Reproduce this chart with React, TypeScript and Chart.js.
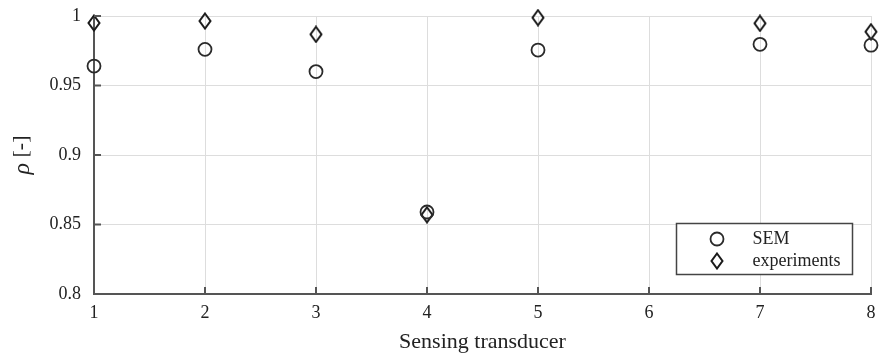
import React, { useEffect, useRef } from "react";
import { Chart, registerables } from "chart.js";

Chart.register(...registerables);

const transducers = [1, 2, 3, 4, 5, 7, 8];
const semValues = [0.964, 0.976, 0.96, 0.859, 0.9755, 0.9796, 0.979];
const experimentValues = [0.995, 0.9964, 0.9868, 0.857, 0.9988, 0.9947, 0.9887];
const seriesNames = ["SEM", "experiments"];
const xTitle = "Sensing transducer";
const yTitleSymbol = "ρ";
const yTitleUnit = " [-]";

const FONT = "'Liberation Serif', 'Times New Roman', serif";
const INK = "#2a2a2a";

function makeDiamond(): HTMLCanvasElement {
  const c = document.createElement("canvas");
  c.width = 14;
  c.height = 18;
  const g = c.getContext("2d")!;
  g.strokeStyle = "#1a1a1a";
  g.lineWidth = 2;
  g.lineJoin = "miter";
  g.beginPath();
  g.moveTo(7, 1.5);
  g.lineTo(12.5, 9);
  g.lineTo(7, 16.5);
  g.lineTo(1.5, 9);
  g.closePath();
  g.stroke();
  return c;
}

export default function App() {
  const ref = useRef<HTMLCanvasElement | null>(null);

  useEffect(() => {
    if (!ref.current) return;
    const diamond = makeDiamond();

    const innerTicks = {
      id: "innerTicks",
      afterDatasetsDraw(chart: any) {
        const { ctx, chartArea, scales } = chart;
        ctx.save();
        ctx.strokeStyle = "#555";
        ctx.lineWidth = 2;
        scales.x.ticks.forEach((t: any) => {
          const px = scales.x.getPixelForValue(t.value);
          ctx.beginPath();
          ctx.moveTo(px, chartArea.bottom);
          ctx.lineTo(px, chartArea.bottom - 7);
          ctx.stroke();
        });
        scales.y.ticks.forEach((t: any) => {
          const py = scales.y.getPixelForValue(t.value);
          ctx.beginPath();
          ctx.moveTo(chartArea.left, py);
          ctx.lineTo(chartArea.left + 7, py);
          ctx.stroke();
        });
        ctx.restore();
      },
    };

    const yTitlePlugin = {
      id: "yTitlePlugin",
      afterDraw(chart: any) {
        const { ctx, chartArea } = chart;
        ctx.save();
        ctx.translate(21, (chartArea.top + chartArea.bottom) / 2);
        ctx.rotate(-Math.PI / 2);
        ctx.fillStyle = "#222";
        ctx.textBaseline = "middle";
        ctx.textAlign = "left";
        const f1 = `italic 24px ${FONT}`;
        const f2 = `22px ${FONT}`;
        ctx.font = f1;
        const w1 = ctx.measureText(yTitleSymbol).width;
        ctx.font = f2;
        const w2 = ctx.measureText(yTitleUnit).width;
        const start = -(w1 + w2) / 2;
        ctx.font = f1;
        ctx.fillText(yTitleSymbol, start, 2);
        ctx.font = f2;
        ctx.fillText(yTitleUnit, start + w1, 0);
        ctx.restore();
      },
    };

    const boxLegend = {
      id: "boxLegend",
      afterDraw(chart: any) {
        const { ctx, chartArea } = chart;
        const w = 176;
        const h = 51;
        const x0 = Math.round(chartArea.right - 19 - w) + 0.5;
        const y0 = Math.round(chartArea.bottom - 20 - h) + 0.5;
        ctx.save();
        ctx.fillStyle = "#fff";
        ctx.fillRect(x0, y0, w, h);
        ctx.strokeStyle = "#444";
        ctx.lineWidth = 1.5;
        ctx.strokeRect(x0, y0, w, h);
        const mx = Math.round(x0 + 40);
        const r1 = Math.round(y0 + 15);
        const r2 = Math.round(y0 + 37);
        ctx.strokeStyle = INK;
        ctx.lineWidth = 1.8;
        ctx.beginPath();
        ctx.arc(mx, r1, 6.5, 0, Math.PI * 2);
        ctx.stroke();
        ctx.drawImage(diamond, mx - 7, r2 - 9);
        ctx.fillStyle = "#222";
        ctx.font = `18px ${FONT}`;
        ctx.textBaseline = "middle";
        ctx.textAlign = "left";
        ctx.fillText(seriesNames[0], x0 + 76, r1);
        ctx.fillText(seriesNames[1], x0 + 76, r2);
        ctx.restore();
      },
    };

    const chart = new Chart(ref.current, {
      type: "scatter",
      data: {
        datasets: [
          {
            label: seriesNames[0],
            data: transducers.map((x, i) => ({ x, y: semValues[i] })),
            pointStyle: "circle",
            pointRadius: 6.5,
            borderColor: INK,
            borderWidth: 1.8,
            backgroundColor: "rgba(0,0,0,0)",
            clip: false,
          } as any,
          {
            label: seriesNames[1],
            data: transducers.map((x, i) => ({ x, y: experimentValues[i] })),
            pointStyle: diamond,
            pointRadius: 8,
            borderColor: INK,
            backgroundColor: "rgba(0,0,0,0)",
            clip: false,
          } as any,
        ],
      },
      options: {
        responsive: false,
        animation: false,
        devicePixelRatio: 1,
        layout: { padding: { top: 16, right: 12, left: 0, bottom: 0 } },
        plugins: { legend: { display: false }, tooltip: { enabled: false } },
        scales: {
          x: {
            type: "linear",
            min: 1,
            max: 8,
            afterFit: (s: any) => {
              s.height = 61;
              s.paddingLeft = 0;
              s.paddingRight = 0;
            },
            ticks: {
              stepSize: 1,
              padding: 8,
              color: "#222",
              font: { family: FONT, size: 18 },
              callback: (v: any) => String(v),
            },
            grid: { color: "#dddddd", lineWidth: 1, drawTicks: false },
            border: { display: true, color: "#555", width: 2 },
            title: {
              display: true,
              text: xTitle,
              color: "#222",
              font: { family: FONT, size: 22 },
              padding: { top: 0, bottom: 0 },
            },
          },
          y: {
            type: "linear",
            min: 0.8,
            max: 1,
            afterFit: (s: any) => {
              s.width = 94;
              s.paddingTop = 0;
              s.paddingBottom = 0;
            },
            ticks: {
              stepSize: 0.05,
              padding: 13,
              color: "#222",
              font: { family: FONT, size: 18 },
              callback: (v: any) => String(Number(Number(v).toFixed(2))),
            },
            grid: { color: "#dddddd", lineWidth: 1, drawTicks: false },
            border: { display: true, color: "#555", width: 2 },
            title: { display: false, text: yTitleSymbol + yTitleUnit },
          },
        },
      },
      plugins: [innerTicks, yTitlePlugin, boxLegend],
    });

    return () => chart.destroy();
  }, []);

  return (
    <div style={{ position: "fixed", left: 0, top: 0, width: 883, height: 355, background: "#fff" }}>
      <canvas ref={ref} width={883} height={355} />
    </div>
  );
}
